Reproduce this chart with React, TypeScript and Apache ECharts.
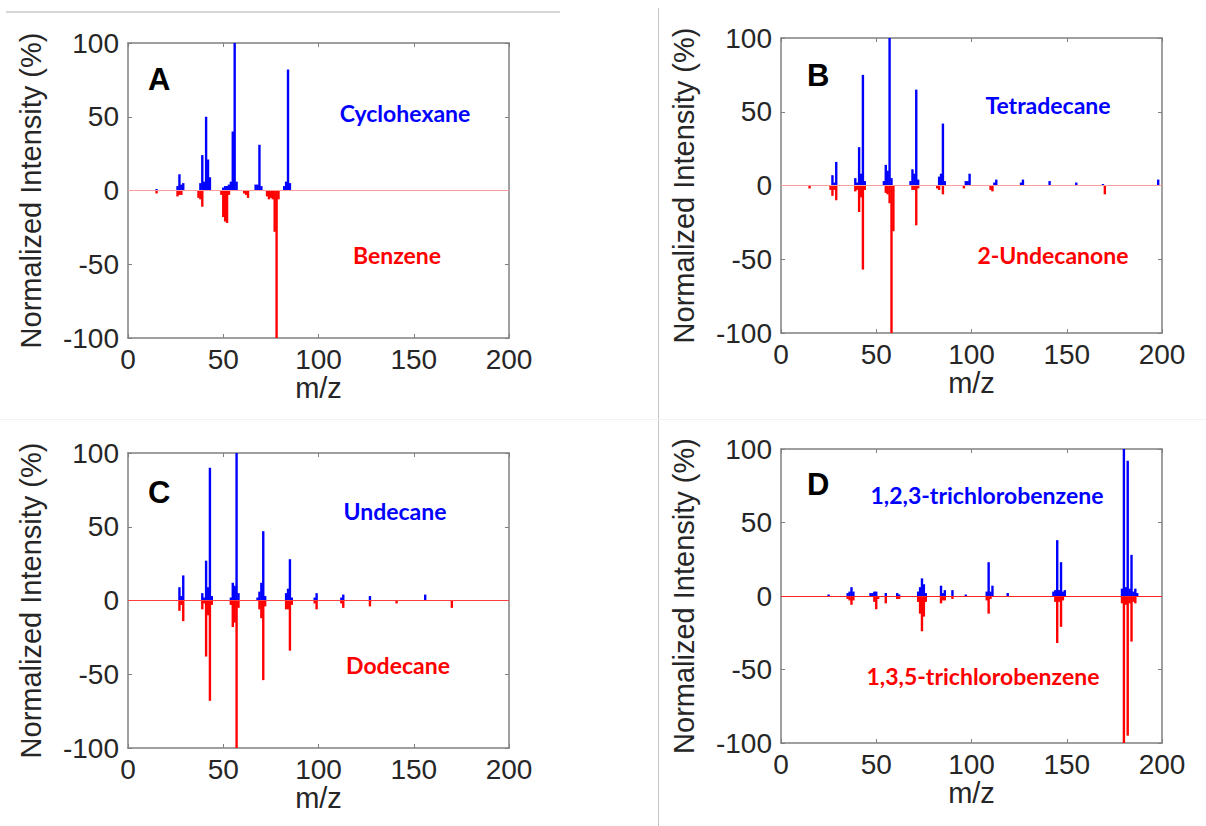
import React, { useEffect, useRef } from "react";
import * as echarts from "echarts";

// ---- tick labels ----
const mzTicks = [0, 50, 100, 150, 200];
const intensityTicks = [-100, -50, 0, 50, 100];

// ---- series values: [m/z, normalized intensity %] ----
const cyclohexane: [number, number][] = [
  [15, 1], [26, 3], [27, 11], [28, 4], [29, 5], [38, 5], [39, 24], [40, 6], [41, 50], [42, 21], [43, 9],
  [50, 2], [51, 3], [52, 3], [53, 4], [54, 6], [55, 40], [56, 100], [57, 6], [67, 4], [68, 4], [69, 31],
  [70, 3], [82, 3], [83, 6], [84, 82], [85, 5],
];
const benzene: [number, number][] = [
  [15, -2], [26, -4], [27, -3], [28, -3], [37, -5], [38, -6], [39, -11], [49, -3], [50, -18], [51, -21],
  [52, -22], [53, -3], [61, -2], [62, -3], [63, -5], [73, -4], [74, -6], [75, -5], [76, -6], [77, -28],
  [78, -100], [79, -6],
];
const tetradecane: [number, number][] = [
  [27, 7], [28, 2], [29, 16], [39, 5], [40, 2], [41, 26], [42, 8], [43, 75], [44, 3], [54, 3], [55, 14],
  [56, 10], [57, 100], [58, 5], [68, 3], [69, 11], [70, 8], [71, 65], [72, 4], [83, 6], [84, 8], [85, 42],
  [86, 3], [97, 3], [98, 3], [99, 8], [112, 2], [113, 4], [126, 2], [127, 4], [141, 3], [155, 2], [169, 1],
  [198, 4],
];
const undecanone: [number, number][] = [
  [15, -2], [26, -3], [27, -7], [28, -3], [29, -10], [39, -4], [40, -3], [41, -18], [42, -8], [43, -57],
  [44, -3], [55, -5], [56, -6], [57, -12], [58, -100], [59, -31], [69, -3], [70, -3], [71, -27], [72, -2],
  [82, -2], [83, -3], [85, -6], [96, -2], [110, -3], [111, -4], [170, -6],
];
const undecane: [number, number][] = [
  [27, 9], [28, 3], [29, 17], [39, 5], [40, 2], [41, 27], [42, 9], [43, 90], [44, 3], [54, 2], [55, 12],
  [56, 10], [57, 100], [58, 5], [68, 2], [69, 6], [70, 12], [71, 47], [72, 3], [83, 5], [84, 8], [85, 28],
  [86, 2], [98, 2], [99, 5], [112, 2], [113, 4], [127, 3], [156, 4],
];
const dodecane: [number, number][] = [
  [27, -7], [28, -3], [29, -14], [39, -6], [40, -2], [41, -38], [42, -10], [43, -68], [44, -3], [54, -3],
  [55, -18], [56, -15], [57, -100], [58, -5], [69, -6], [70, -12], [71, -54], [72, -4], [83, -6], [84, -6],
  [85, -34], [86, -3], [98, -2], [99, -6], [112, -2], [113, -5], [127, -4], [141, -2], [170, -5],
];
const trichloro123: [number, number][] = [
  [25, 1], [35, 2], [36, 3], [37, 6], [38, 3], [47, 2], [48, 2], [49, 3], [50, 3], [55, 2], [61, 2], [62, 1],
  [72, 3], [73, 6], [74, 12], [75, 8], [76, 2], [84, 7], [85, 2], [86, 4], [90, 4], [97, 1], [108, 3],
  [109, 23], [110, 3], [111, 7], [119, 2], [143, 3], [144, 4], [145, 38], [146, 4], [147, 23], [148, 3],
  [149, 4], [179, 5], [180, 100], [181, 6], [182, 92], [183, 5], [184, 28], [185, 3], [186, 5], [187, 2],
];
const trichloro135: [number, number][] = [
  [35, -2], [36, -3], [37, -6], [38, -3], [49, -4], [50, -9], [51, -2], [55, -5], [61, -2], [62, -2],
  [72, -4], [73, -12], [74, -24], [75, -14], [76, -4], [84, -5], [85, -3], [86, -3], [90, -2], [108, -3],
  [109, -12], [110, -2], [144, -4], [145, -32], [146, -4], [147, -21], [148, -3], [179, -5], [180, -100],
  [181, -6], [182, -95], [183, -5], [184, -31], [185, -4], [186, -5],
];

const panelLetters = ["A", "B", "C", "D"];
const upperNames = ["Cyclohexane", "Tetradecane", "Undecane", "1,2,3-trichlorobenzene"];
const lowerNames = ["Benzene", "2-Undecanone", "Dodecane", "1,3,5-trichlorobenzene"];
const upperSeries = [cyclohexane, tetradecane, undecane, trichloro123];
const lowerSeries = [benzene, undecanone, dodecane, trichloro135];
const xAxisTitle = "m/z";
const yAxisTitle = "Normalized Intensity (%)";

// ---- layout (pixels) ----
const layouts = [
  { left: 128, top: 43, width: 381, height: 295, zero: "#ff9d9d", letter: [148, 79], up: [405, 113], low: [397, 255] },
  { left: 781, top: 38, width: 381, height: 295, zero: "#ff9d9d", letter: [807, 75], up: [1048, 105], low: [1053, 255] },
  { left: 128, top: 453, width: 381, height: 295, zero: "#ff4040", letter: [148, 492], up: [395, 511], low: [398, 665] },
  { left: 781, top: 449, width: 381, height: 294, zero: "#ff2020", letter: [807, 484], up: [987, 495], low: [983, 676] },
];

const AXIS_GRAY = "#808080";
const TEXT_DARK = "#262626";
const AXIS_FONT = "'Liberation Sans', Arial, sans-serif";
const LABEL_FONT = "Lato, 'Open Sans', sans-serif";

function buildOption(): echarts.EChartsOption {
  const grid: any[] = [];
  const xAxis: any[] = [];
  const yAxis: any[] = [];
  const series: any[] = [];
  const graphic: any[] = [];

  const xMin = mzTicks[0];
  const xMax = mzTicks[mzTicks.length - 1];
  const xInt = mzTicks[1] - mzTicks[0];
  const yMin = intensityTicks[0];
  const yMax = intensityTicks[intensityTicks.length - 1];
  const yInt = intensityTicks[1] - intensityTicks[0];

  const tick = { show: true, inside: true, length: 4, lineStyle: { color: AXIS_GRAY, width: 1 } };
  const line = { show: true, onZero: false, lineStyle: { color: AXIS_GRAY, width: 1.5 } };

  layouts.forEach((L, i) => {
    grid.push({ left: L.left, top: L.top, width: L.width, height: L.height, containLabel: false });
    xAxis.push({
      gridIndex: i, type: "value", position: "bottom", min: xMin, max: xMax, interval: xInt,
      axisLine: line, axisTick: tick, splitLine: { show: false },
      axisLabel: { show: true, color: TEXT_DARK, fontSize: 28, fontFamily: AXIS_FONT, margin: 7, showMinLabel: true, showMaxLabel: true },
      name: xAxisTitle, nameLocation: "middle", nameGap: 29,
      nameTextStyle: { color: TEXT_DARK, fontSize: 29, fontFamily: AXIS_FONT },
    });
    xAxis.push({
      gridIndex: i, type: "value", position: "top", min: xMin, max: xMax, interval: xInt,
      axisLine: line, axisTick: tick, splitLine: { show: false }, axisLabel: { show: false },
    });
    yAxis.push({
      gridIndex: i, type: "value", position: "left", min: yMin, max: yMax, interval: yInt,
      axisLine: line, axisTick: tick, splitLine: { show: false },
      axisLabel: { show: true, color: TEXT_DARK, fontSize: 28, fontFamily: AXIS_FONT, margin: 9, showMinLabel: true, showMaxLabel: true },
      name: yAxisTitle, nameLocation: "middle", nameGap: 83, nameRotate: 90,
      nameTextStyle: { color: TEXT_DARK, fontSize: 29, fontFamily: AXIS_FONT },
    });
    yAxis.push({
      gridIndex: i, type: "value", position: "right", min: yMin, max: yMax, interval: yInt,
      axisLine: line, axisTick: tick, splitLine: { show: false }, axisLabel: { show: false },
    });

    series.push({
      type: "bar", xAxisIndex: i * 2, yAxisIndex: i * 2, data: upperSeries[i],
      barWidth: 2.4, barGap: "-100%", itemStyle: { color: "#0000ff" },
      markLine: {
        silent: true, symbol: ["none", "none"], data: [{ yAxis: 0 }],
        lineStyle: { color: L.zero, width: 1.2, type: "solid" }, label: { show: false },
      },
    });
    series.push({
      type: "bar", xAxisIndex: i * 2, yAxisIndex: i * 2, data: lowerSeries[i],
      barWidth: 2.4, barGap: "-100%", itemStyle: { color: "#ff0000" },
    });

    graphic.push({
      type: "text", x: L.letter[0], y: L.letter[1], z: 10,
      style: { text: panelLetters[i], fill: "#000", font: `bold 31px ${AXIS_FONT}`, align: "left", verticalAlign: "middle" },
    });
    graphic.push({
      type: "text", x: L.up[0], y: L.up[1], z: 10,
      style: { text: upperNames[i], fill: "#0000ff", font: `bold 23px ${LABEL_FONT}`, align: "center", verticalAlign: "middle" },
    });
    graphic.push({
      type: "text", x: L.low[0], y: L.low[1], z: 10,
      style: { text: lowerNames[i], fill: "#ff0000", font: `bold 23px ${LABEL_FONT}`, align: "center", verticalAlign: "middle" },
    });
  });

  graphic.push({ type: "line", shape: { x1: 6, y1: 12, x2: 560, y2: 12 }, style: { stroke: "#d6d6d6", lineWidth: 2 } });
  graphic.push({ type: "line", shape: { x1: 658.5, y1: 8, x2: 658.5, y2: 826 }, style: { stroke: "#c4c4c4", lineWidth: 1 } });
  graphic.push({ type: "line", shape: { x1: 0, y1: 419.5, x2: 1206, y2: 419.5 }, style: { stroke: "#f2f2f2", lineWidth: 1 } });

  return { animation: false, backgroundColor: "#ffffff", grid, xAxis, yAxis, series, graphic };
}

export default function App() {
  const ref = useRef<HTMLDivElement>(null);
  useEffect(() => {
    if (!ref.current) return;
    const chart = echarts.init(ref.current, null, { renderer: "svg" });
    chart.setOption(buildOption());
    return () => chart.dispose();
  }, []);
  return (
    <div
      ref={ref}
      style={{ position: "fixed", left: 0, top: 0, width: 1206, height: 826, background: "#ffffff" }}
    />
  );
}
